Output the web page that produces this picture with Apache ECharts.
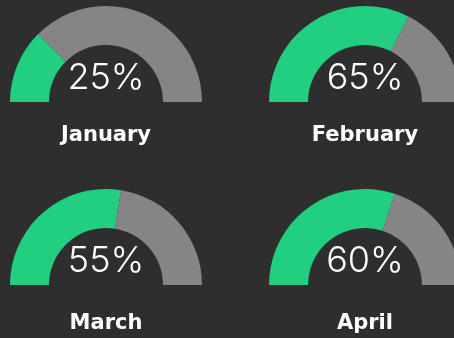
<!DOCTYPE html>
<html>
<head>
<meta charset="utf-8">
<script src="https://cdn.jsdelivr.net/npm/echarts@6/dist/echarts.min.js"></script>
<style>
  html, body { margin: 0; padding: 0; background: #2e2e2e; }
  #main { width: 454px; height: 338px; }
</style>
</head>
<body>
<div id="main"></div>
<script>
// Monthly completion, one half-donut per month
const months = ['January', 'February', 'March', 'April'];
const percents = [25, 65, 55, 60];

// Layout of the 2x2 grid of half-donuts
const centers = [[106, 102], [365, 102], [106, 285], [365, 285]];
const labelY = [136, 136, 324, 324];
const innerR = 57;
const outerR = 96;

const GREEN = '#22cf81';
const GRAY = '#858585';
const BG = '#2e2e2e';

const chart = echarts.init(document.getElementById('main'), null, { renderer: 'canvas' });

const series = percents.map((v, i) => ({
  type: 'pie',
  center: centers[i],
  radius: [innerR, outerR],
  startAngle: 180,
  clockwise: true,
  silent: true,
  animation: false,
  label: { show: false },
  labelLine: { show: false },
  emphasis: { disabled: true },
  itemStyle: { borderWidth: 0 },
  data: [
    { value: v, itemStyle: { color: GREEN } },
    { value: 100 - v, itemStyle: { color: GRAY } },
    // lower half kept empty so the ring is a semicircle
    { value: 100, itemStyle: { color: 'rgba(0,0,0,0)' } }
  ]
}));

const texts = [];
percents.forEach((v, i) => {
  texts.push({
    type: 'text',
    x: centers[i][0],
    y: centers[i][1] - 24,
    silent: true,
    style: {
      text: v + '%',
      fill: '#ffffff',
      fontFamily: 'Inter',
      fontWeight: 300,
      fontSize: 36,
      align: 'center',
      verticalAlign: 'middle'
    }
  });
  texts.push({
    type: 'text',
    x: centers[i][0],
    y: labelY[i],
    silent: true,
    style: {
      text: months[i],
      fill: '#ffffff',
      fontFamily: 'DejaVu Sans',
      fontWeight: 'bold',
      fontSize: 21,
      align: 'center',
      verticalAlign: 'middle'
    }
  });
});

chart.setOption({
  backgroundColor: BG,
  animation: false,
  series: series,
  graphic: texts
});
</script>
</body>
</html>
